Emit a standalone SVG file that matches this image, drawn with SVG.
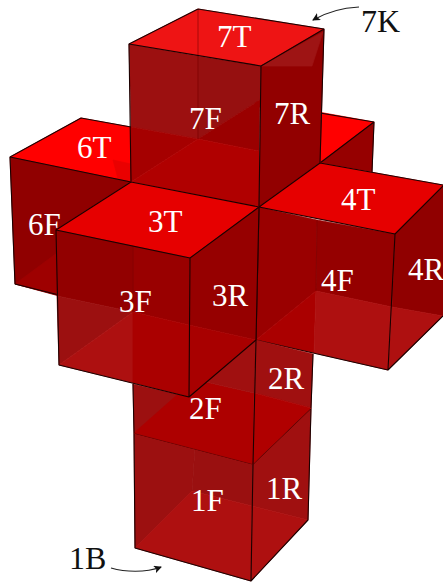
<svg xmlns="http://www.w3.org/2000/svg" width="443" height="582" viewBox="0 0 443 582">
<style>
polygon{fill:currentColor;stroke:currentColor;stroke-width:.7;stroke-linejoin:round}
.e{fill:none;stroke:#1a0000;stroke-width:1.1;stroke-linejoin:round}
.f{fill:none;stroke:#7a0000;stroke-width:.6}
text{font-family:"Liberation Serif","Times New Roman",serif;font-size:31px}
.w{fill:#fff}
.k{fill:#111;font-size:32px}
.a{fill:none;stroke:#222;stroke-width:1.2}
</style>
<defs>
<marker id="ah" markerWidth="9" markerHeight="8" refX="7" refY="4" orient="auto" markerUnits="userSpaceOnUse"><path d="M0 0L8 4L0 8L2 4Z" fill="#111"/></marker>
</defs>
<rect width="443" height="582" fill="#fff"/>
<g id="cube5">
<polygon points="252,100 374,122 320,163" color="#ff0000"/>
<polygon points="320,163 374,122 372,172" color="#960000"/>
<path class="e" d="M320 113L374 122L320 163M374 122L372 172"/>
</g>
<g id="cube6">
<polygon points="81,118 10,157 131,182 131,127" color="#ff0000"/>
<polygon points="113,160 131,164 131,182 118,179" color="#ea0000"/>
<polygon points="10,157 131,182 56,230 59,296 15,284" color="#900000"/>
<polygon points="15,284 57,253 57,295" color="#9e0000"/>
<path class="e" d="M131 127L81 118L10 157L15 284L59 295M10 157L131 182"/>
<text class="w" x="77" y="158">6T</text>
<text class="w" x="28" y="235">6F</text>
</g>
<g id="cube7">
<polygon points="198,9 129,44 261,66 324,29" color="#ee1414"/>
<polygon points="129,44 198,56 198,139 131,127" color="#9c1010"/>
<polygon points="198,56 261,66 260,100 198,139" color="#961010"/>
<polygon points="131,127 198,139 131,182" color="#a50000"/>
<polygon points="198,139 260,100 259,151" color="#9a0000"/>
<polygon points="198,139 131,182 259,207 259,151" color="#b00000"/>
<polygon points="261,66 324,29 320,163 259,207" color="#920000"/>
<polygon points="261,66 312,66 323,32" color="#9e1414"/>
<path class="f" d="M198 9V139"/>
<path class="e" d="M198 9L129 44L261 66L324 29L198 9M129 44L131 182M261 66L259 207M324 29L320 163"/>
<text class="w" x="217" y="47">7T</text>
<text class="w" x="189" y="129">7F</text>
<text class="w" x="274" y="124">7R</text>
</g>
<g id="cube4">
<polygon points="320,163 259,207 395,234 443,186 443,185" color="#e60000"/>
<polygon points="259,207 317,220 316,291 256,340" color="#9a0000"/>
<polygon points="317,220 395,234 392,307 316,291" color="#950000"/>
<polygon points="316,291 314,353 256,340" color="#aa0000"/>
<polygon points="316,291 392,307 388,370 314,353" color="#ae1010"/>
<polygon points="395,234 443,186 443,316 392,307" color="#900000"/>
<polygon points="392,307 443,316 388,370" color="#ae1010"/>
<path class="f" d="M317 220L316 291"/>
<path class="e" d="M320 163L443 185M259 207L395 234L443 186M395 234L388 370L443 316M259 207L256 340L388 370M320 163L259 207"/>
<text class="w" x="341" y="210">4T</text>
<text class="w" x="321" y="291">4F</text>
<text class="w" x="408" y="280">4R</text>
</g>
<g id="cube1">
<polygon points="134,433 195,448 192,491 135,548" color="#9c1010"/>
<polygon points="195,448 253,464 252,506 192,491" color="#9a1010"/>
<polygon points="135,548 192,491 252,506 251,581" color="#ae1010"/>
<polygon points="253,464 311,408 308,520 252,506" color="#a01010"/>
<polygon points="252,506 308,520 251,581" color="#ae1010"/>
<path class="e" d="M134 433L253 464L311 408M134 433L135 548L251 581L308 520L311 408M253 464L251 581"/>
<text class="w" x="191" y="511">1F</text>
<text class="w" x="266" y="499">1R</text>
</g>
<g id="cube2">
<polygon points="133,384 189,397 134,433" color="#9c1010"/>
<polygon points="134,433 177,395 189,397 206,382 254,393 253,464" color="#ad0000"/>
<polygon points="206,382 256,340 254,393" color="#a01010"/>
<polygon points="256,340 313,354 311,408 254,393" color="#a01010"/>
<polygon points="254,393 311,408 253,464" color="#b00000"/>
<path class="e" d="M133 384L134 433M256 340L253 464M313 354L311 408"/>
<text class="w" x="189" y="419">2F</text>
<text class="w" x="268" y="389">2R</text>
</g>
<g id="cube3">
<polygon points="131,182 56,230 190,258 259,207" color="#e60000"/>
<polygon points="56,230 133,246 133,312 57,296" color="#920000"/>
<polygon points="133,246 190,258 189,325 133,312" color="#990000"/>
<polygon points="57,296 133,312 59,365" color="#9c1010"/>
<polygon points="59,365 133,312 133,383" color="#ad1010"/>
<polygon points="133,312 189,325 189,397 133,383" color="#aa0000"/>
<polygon points="190,258 259,207 256,340 189,325" color="#960000"/>
<polygon points="189,325 256,340 189,397" color="#a80000"/>
<path class="f" d="M133 246V312"/>
<path class="e" d="M131 182L56 230L190 258L259 207L131 182M56 230L59 365L189 397L256 340M190 258L189 397M259 207L256 340"/>
<text class="w" x="148" y="232">3T</text>
<text class="w" x="119" y="312">3F</text>
<text class="w" x="212" y="306">3R</text>
</g>
<g id="labels">
<text class="k" x="361" y="32">7K</text>
<text class="k" x="69" y="569">1B</text>
</g>
<g id="connectors">
<path class="a" marker-end="url(#ah)" d="M359 7C340 8 325 13 313 20"/>
<path class="a" marker-end="url(#ah)" d="M111 568C125 572 145 573 161 567"/>
</g>
</svg>
